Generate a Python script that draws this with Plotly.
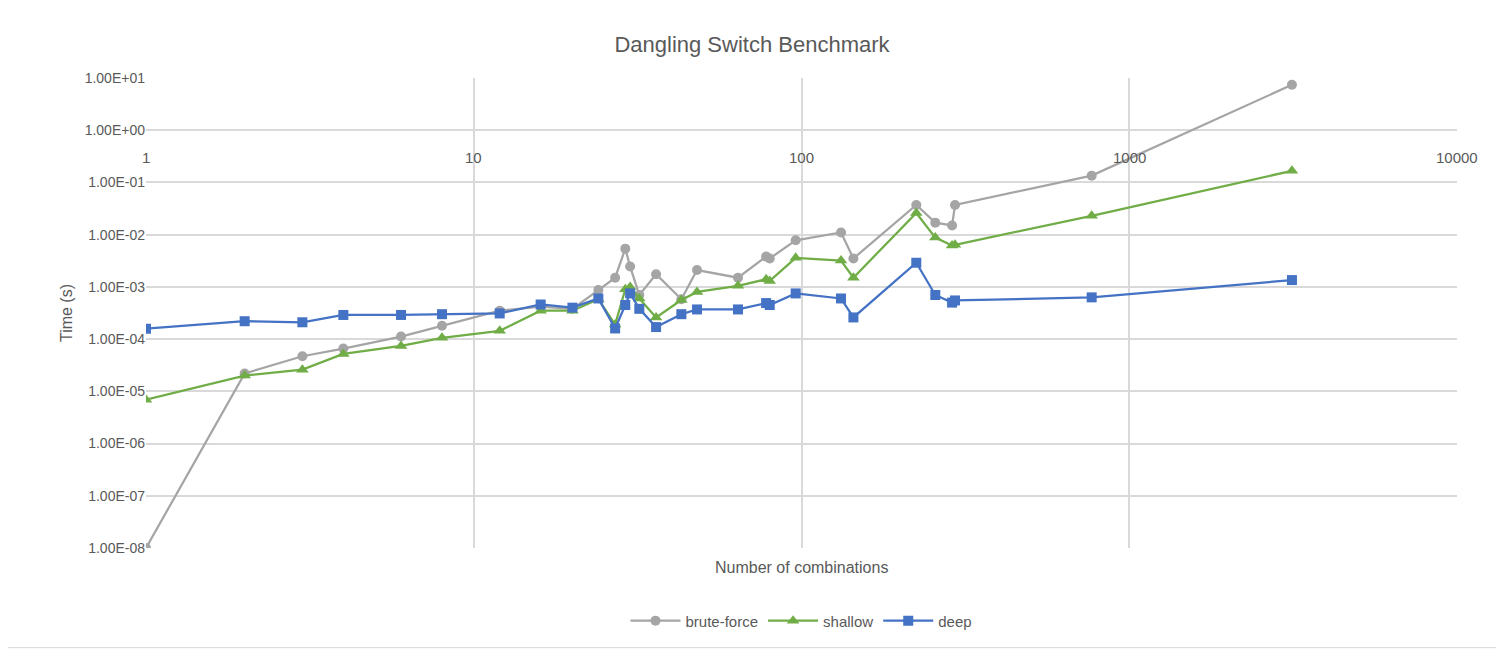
import plotly.graph_objects as go

combos = [1, 2, 3, 4, 6, 8, 12, 16, 20, 24, 27, 29, 30, 32, 36, 43, 48, 64, 78, 80,
          96, 132, 144, 224, 256, 288, 294, 768, 3136]

brute_force = [1e-8, 2.2e-5, 4.7e-5, 6.6e-5, 1.12e-4, 1.8e-4, 3.5e-4, 4.2e-4, 3.8e-4, 8.7e-4,
               1.5e-3, 5.4e-3, 2.45e-3, 7e-4, 1.75e-3, 5.8e-4, 2.1e-3, 1.5e-3, 3.8e-3, 3.5e-3,
               7.8e-3, 1.1e-2, 3.5e-3, 3.7e-2, 1.7e-2, 1.5e-2, 3.7e-2, 0.135, 7.4]
shallow = [6.9e-6, 2e-5, 2.6e-5, 5.2e-5, 7.4e-5, 1.06e-4, 1.44e-4, 3.5e-4, 3.5e-4, 5.8e-4,
           1.9e-4, 9e-4, 1e-3, 6e-4, 2.6e-4, 5.6e-4, 8e-4, 1.05e-3, 1.4e-3, 1.3e-3,
           3.6e-3, 3.2e-3, 1.5e-3, 2.6e-2, 8.8e-3, 6.2e-3, 6.4e-3, 2.3e-2, 0.167]
deep = [1.58e-4, 2.2e-4, 2.1e-4, 2.9e-4, 2.9e-4, 3e-4, 3.1e-4, 4.6e-4, 4e-4, 6e-4,
        1.6e-4, 4.5e-4, 7.5e-4, 3.8e-4, 1.7e-4, 3e-4, 3.7e-4, 3.7e-4, 4.9e-4, 4.5e-4,
        7.5e-4, 6e-4, 2.6e-4, 2.9e-3, 7e-4, 5e-4, 5.5e-4, 6.3e-4, 1.35e-3]

y_ticks = [10.0 ** e for e in range(-8, 2)]
y_labels = ["%.2E" % v for v in y_ticks]
x_ticks = [1, 10, 100, 1000, 10000]

font = "Liberation Sans"
grey_txt = "#595959"

fig = go.Figure()
fig.add_trace(go.Scatter(x=combos, y=brute_force, name="brute-force", mode="lines+markers",
                         line=dict(color="#A5A5A5", width=2.25),
                         marker=dict(symbol="circle", size=10, color="#A5A5A5")))
fig.add_trace(go.Scatter(x=combos, y=shallow, name="shallow", mode="lines+markers",
                         line=dict(color="#70AD47", width=2.25),
                         marker=dict(symbol="triangle-up", size=11, color="#70AD47")))
fig.add_trace(go.Scatter(x=combos, y=deep, name="deep", mode="lines+markers",
                         line=dict(color="#4472C4", width=2.25),
                         marker=dict(symbol="square", size=10, color="#4472C4")))

# x tick labels sit where the x axis crosses y = 1
for xv in x_ticks:
    fig.add_annotation(x=len(str(xv)) - 1, y=0, xref="x", yref="y",
                       text=str(xv), showarrow=False, yshift=-27,
                       font=dict(size=15, color=grey_txt, family=font))
fig.add_annotation(x=0.5, y=-0.02, xref="paper", yref="paper", yanchor="top",
                   text="Number of combinations", showarrow=False,
                   font=dict(size=16, color=grey_txt, family=font))

fig.update_layout(
    width=1488, height=641,
    margin=dict(l=138, r=39, t=70, b=95),
    paper_bgcolor="white", plot_bgcolor="white",
    font=dict(family=font, color=grey_txt),
    title=dict(text="Dangling Switch Benchmark", x=0.5, xanchor="center", y=0.955,
               font=dict(size=22, color=grey_txt, family=font)),
    xaxis=dict(type="log", range=[0, 4], tickvals=x_ticks, showticklabels=False,
               showgrid=True, gridcolor="#D9D9D9", gridwidth=1.5, zeroline=False,
               showline=False, ticks=""),
    yaxis=dict(type="log", range=[-8, 1], tickvals=y_ticks, ticktext=y_labels,
               showgrid=True, gridcolor="#D9D9D9", gridwidth=1.5, zeroline=False,
               ticks="", tickfont=dict(size=14, color=grey_txt),
               title=dict(text="Time (s)", font=dict(size=16, color=grey_txt), standoff=8)),
    legend=dict(orientation="h", x=0.5, xanchor="center", y=-0.12, yanchor="top",
                itemwidth=50, font=dict(size=15, color=grey_txt)),
    shapes=[dict(type="rect", xref="paper", yref="paper", x0=-0.110, x1=1.035,
                 y0=-0.212, y1=1.162, line=dict(color="#D9D9D9", width=1))],
)

fig.write_html("out.html")
